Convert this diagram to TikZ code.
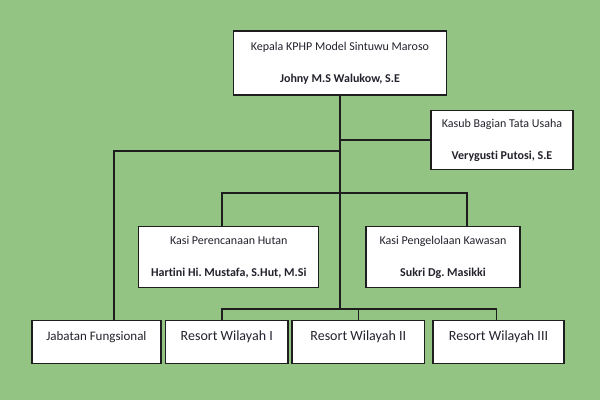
\documentclass[tikz,border=0pt]{standalone}
\usepackage{fontspec}
\setmainfont[Ligatures=NoCommon]{Carlito}
\frenchspacing
\definecolor{bg}{RGB}{148,196,132}
\definecolor{ln}{RGB}{30,30,30}
\definecolor{tx}{RGB}{35,35,45}
\begin{document}
\begin{tikzpicture}[x=1bp,y=-1bp,
  box/.style={draw=ln, line width=1.4bp, fill=white, inner sep=0pt, align=center, text=tx},
  twoline/.style={box, font=\fontsize{12bp}{14bp}\selectfont},
  oneline/.style={box, text height=20bp, text depth=22.6bp, font=\fontsize{14bp}{16bp}\selectfont},
  conn/.style={draw=ln, line width=1.4bp}]
\useasboundingbox (0,0) rectangle (600,400);
\fill[bg] (0,0) rectangle (600,400);

\node[twoline, minimum width=213bp, minimum height=64bp] (top) at (340,63)
  {Kepala KPHP Model Sintuwu Maroso\\[17.7bp]\textbf{Johny M.S Walukow, S.E}};
\node[twoline, minimum width=142bp, minimum height=59bp] (kasub) at (502,140)
  {Kasub Bagian Tata Usaha\\[18bp]\textbf{Verygusti Putosi, S.E}};
\node[twoline, minimum width=180bp, minimum height=61bp] (kp) at (228.75,257.2)
  {Kasi Perencanaan Hutan\\[17.7bp]\textbf{Hartini Hi. Mustafa, S.Hut, M.Si}};
\node[twoline, minimum width=154bp, minimum height=61bp] (kk) at (443,257.2)
  {Kasi Pengelolaan Kawasan\\[17.7bp]\textbf{Sukri Dg. Masikki}};

\node[oneline, minimum width=129bp, font=\fontsize{13bp}{15bp}\selectfont] (jab) at (96.4,342) {Jabatan Fungsional};
\node[oneline, minimum width=122.5bp] (r1) at (226.75,342) {Resort Wilayah I};
\node[oneline, minimum width=132.5bp] (r2) at (358.25,342) {Resort Wilayah II};
\node[oneline, minimum width=131bp] (r3) at (498.5,342) {Resort Wilayah III};

\coordinate (tj) at (340,151);
\coordinate (tk) at (340,193);
\coordinate (tb) at (340,309);

\draw[conn] (top.south) -- (tb);
\draw[conn] (kasub.west) -- (kasub.west -| top.south);
\draw[conn] (tj) -| ([xshift=17.5bp]jab.north);
\draw[conn] ([xshift=-6.75bp]kp.north) |- (tk) -| ([xshift=24bp]kk.north);
\draw[conn] ([xshift=-4.75bp]r1.north) |- (tb) -| ([xshift=-1.9bp]r3.north);
\draw[conn] (r2.north) -- (r2.north |- tb);
\end{tikzpicture}
\end{document}
